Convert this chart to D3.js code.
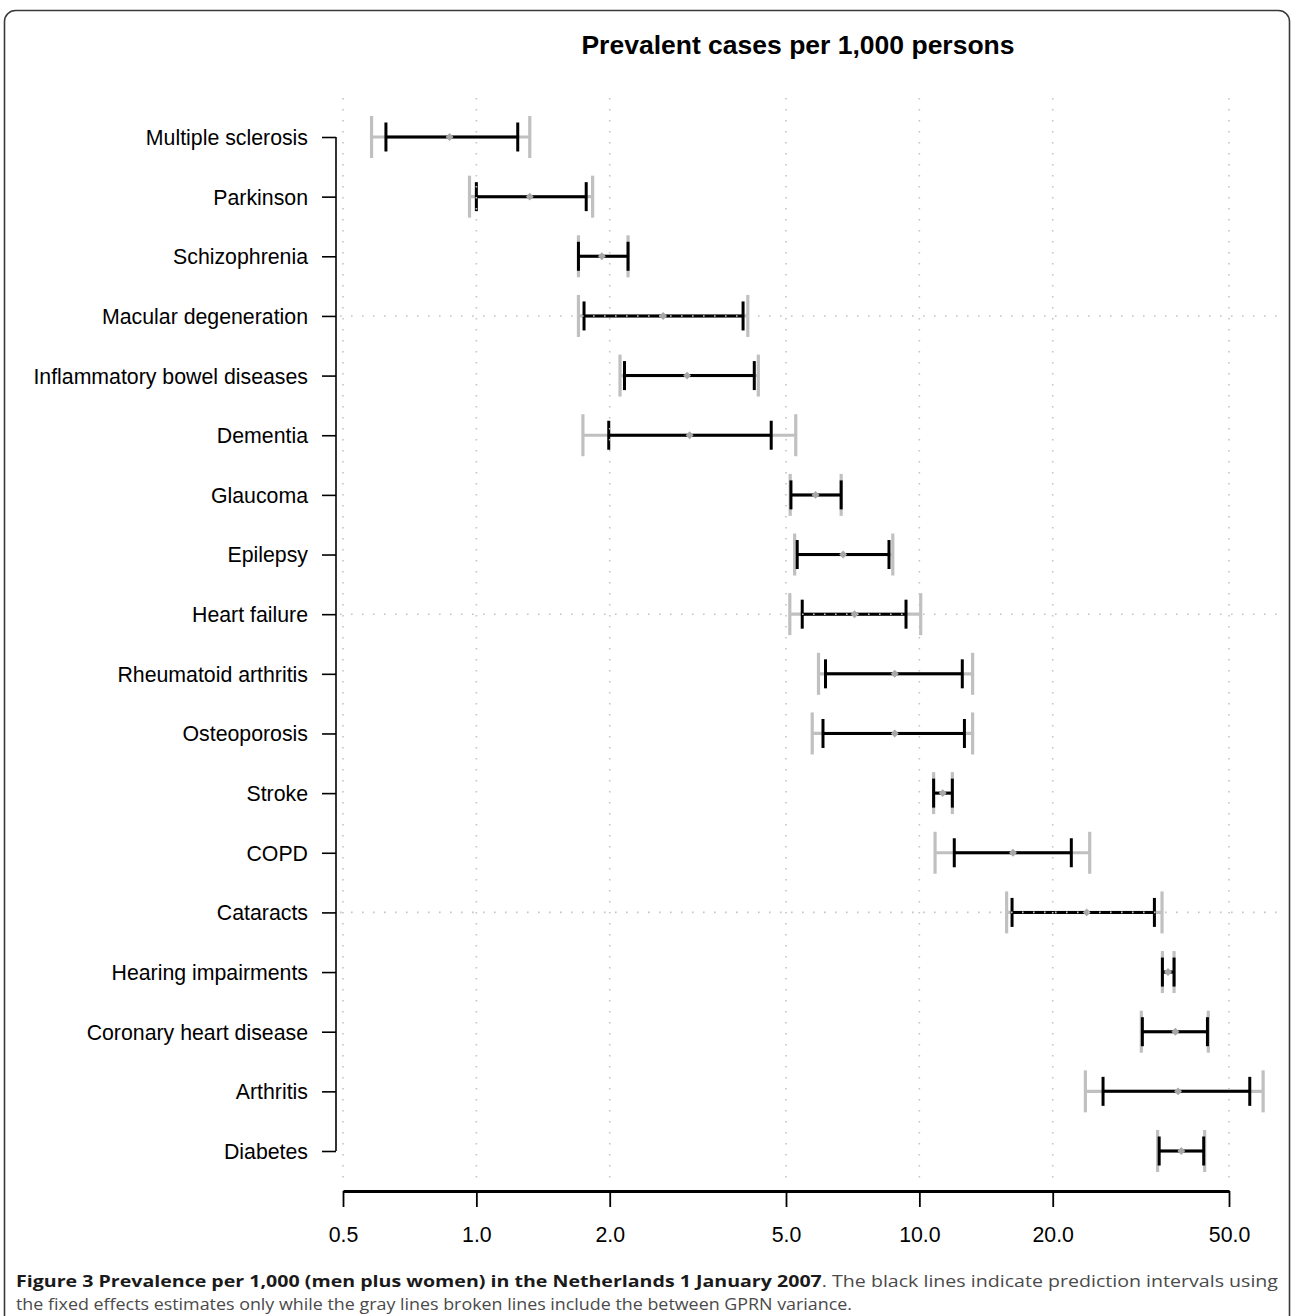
<!DOCTYPE html>
<html>
<head>
<meta charset="utf-8">
<script src="https://cdn.jsdelivr.net/npm/d3@7"></script>
<style>
  html, body { margin: 0; padding: 0; background: #fff; }
  svg { display: block; }
</style>
</head>
<body>
<svg id="chart" width="1293" height="1316"></svg>
<script>
// ---- data ----
const categories = [
  "Multiple sclerosis", "Parkinson", "Schizophrenia", "Macular degeneration",
  "Inflammatory bowel diseases", "Dementia", "Glaucoma", "Epilepsy",
  "Heart failure", "Rheumatoid arthritis", "Osteoporosis", "Stroke", "COPD",
  "Cataracts", "Hearing impairments", "Coronary heart disease", "Arthritis", "Diabetes"
];
const estimate   = [0.87, 1.32, 1.92, 2.64, 2.99, 3.03, 5.83, 6.73, 7.14, 8.80, 8.80, 11.29, 16.27, 23.86, 36.42, 37.84, 38.37, 39.03];
const fixedLow   = [0.625, 1.00, 1.70, 1.75, 2.16, 1.99, 5.13, 5.30, 5.44, 6.14, 6.06, 10.77, 11.99, 16.19, 35.37, 31.87, 25.98, 34.78];
const fixedHigh  = [1.24, 1.77, 2.20, 4.00, 4.24, 4.63, 6.66, 8.54, 9.33, 12.50, 12.64, 11.87, 22.03, 33.93, 37.58, 44.70, 55.70, 43.84];
const totalLow   = [0.58, 0.965, 1.70, 1.70, 2.11, 1.74, 5.11, 5.23, 5.10, 5.92, 5.73, 10.77, 10.85, 15.74, 35.37, 31.70, 23.70, 34.50];
const totalHigh  = [1.32, 1.83, 2.20, 4.10, 4.33, 5.26, 6.66, 8.71, 10.07, 13.19, 13.19, 11.87, 24.24, 35.30, 37.58, 44.90, 59.70, 44.06];
const tickValues = [0.5, 1, 2, 5, 10, 20, 50];
const tickLabels = ["0.5", "1.0", "2.0", "5.0", "10.0", "20.0", "50.0"];
const gridRows   = ["Macular degeneration", "Heart failure", "Cataracts"];
const title = "Prevalent cases per 1,000 persons";
const captionBold = "Figure 3 Prevalence per 1,000 (men plus women) in the Netherlands 1 January 2007";
const captionRest1 = ". The black lines indicate prediction intervals using";
const captionRest2 = "the fixed effects estimates only while the gray lines broken lines include the between GPRN variance.";

const rows = categories.map((c, i) => ({
  name: c, est: estimate[i], fl: fixedLow[i], fh: fixedHigh[i], tl: totalLow[i], th: totalHigh[i]
}));

// ---- layout ----
const svg = d3.select("#chart");
const font = "'Liberation Sans', Arial, Helvetica, sans-serif";

const x = d3.scaleLog().domain([0.5, 50]).range([343, 1229]);
const y = d3.scalePoint().domain(categories).range([137, 1151]);
const axisX = 336, plotRight = 1280, gridTop = 98, gridBottom = 1180, axisY = 1191;

// frame
svg.append("rect")
  .attr("x", 4.5).attr("y", 10.5).attr("width", 1285).attr("height", 1340)
  .attr("rx", 11).attr("ry", 11)
  .attr("fill", "none").attr("stroke", "#3a3a3a").attr("stroke-width", 1.6);

// title
svg.append("text")
  .attr("x", 798).attr("y", 54)
  .attr("text-anchor", "middle")
  .attr("font-family", font).attr("font-weight", "bold").attr("font-size", 26.5)
  .attr("fill", "#000")
  .text(title);

// error bars
const bars = svg.append("g");
const grayC = "#c0c0c0";
rows.forEach(d => {
  const yy = y(d.name);
  bars.append("line").attr("x1", x(d.tl)).attr("x2", x(d.th)).attr("y1", yy).attr("y2", yy)
    .attr("stroke", grayC).attr("stroke-width", 3.2);
  [d.tl, d.th].forEach(v => bars.append("line")
    .attr("x1", x(v)).attr("x2", x(v)).attr("y1", yy - 21).attr("y2", yy + 21)
    .attr("stroke", grayC).attr("stroke-width", 3.2));
  bars.append("line").attr("x1", x(d.fl)).attr("x2", x(d.fh)).attr("y1", yy).attr("y2", yy)
    .attr("stroke", "#000").attr("stroke-width", 3);
  [d.fl, d.fh].forEach(v => bars.append("line")
    .attr("x1", x(v)).attr("x2", x(v)).attr("y1", yy - 14.5).attr("y2", yy + 14.5)
    .attr("stroke", "#000").attr("stroke-width", 3));
  bars.append("path")
    .attr("d", d3.symbol().type(d3.symbolDiamond2).size(40)())
    .attr("transform", `translate(${x(d.est)},${yy})`)
    .attr("fill", "#a8a8a8");
});

// grid (drawn on top, as in the reference)
const grid = svg.append("g").attr("stroke", "#c4c4c4").attr("stroke-width", 1.6)
  .attr("stroke-dasharray", "1.6,9.4").attr("fill", "none");
tickValues.forEach(v => grid.append("line")
  .attr("x1", x(v)).attr("x2", x(v)).attr("y1", gridTop).attr("y2", gridBottom));
gridRows.forEach(r => grid.append("line")
  .attr("x1", axisX + 4).attr("x2", plotRight).attr("y1", y(r)).attr("y2", y(r)));

// y axis
const gy = svg.append("g").attr("transform", `translate(${axisX},0)`)
  .call(d3.axisLeft(y).tickSize(14).tickPadding(14));
gy.select(".domain").attr("d", `M0,${y(categories[0])}V${y(categories[categories.length - 1])}`)
  .attr("stroke-width", 1.6);
gy.selectAll(".tick line").attr("stroke-width", 1.6);
gy.selectAll(".tick text").attr("font-family", font).attr("font-size", 21.3).attr("fill", "#000")
  .attr("dy", "0.35em");

// x axis
const gx = svg.append("g").attr("transform", `translate(0,${axisY})`)
  .call(d3.axisBottom(x).tickValues(tickValues).tickFormat((d, i) => tickLabels[i])
    .tickSize(16).tickSizeOuter(0).tickPadding(20));
gx.select(".domain").attr("stroke-width", 3);
gx.selectAll(".tick line").attr("stroke-width", 1.8);
gx.selectAll(".tick text").attr("font-family", font).attr("font-size", 21.3).attr("fill", "#000");

// caption
const cfont = "'Open Sans', 'Noto Sans', sans-serif";
const c1 = svg.append("text").attr("x", 16).attr("y", 1287)
  .attr("font-family", cfont).attr("font-size", 16.5)
  .attr("textLength", 1262).attr("lengthAdjust", "spacingAndGlyphs");
c1.append("tspan").attr("font-weight", "bold").attr("fill", "#1a1a1a").text(captionBold);
c1.append("tspan").attr("fill", "#4a4a4a").text(captionRest1);
svg.append("text").attr("x", 16).attr("y", 1310)
  .attr("font-family", cfont).attr("font-size", 16.5).attr("fill", "#4a4a4a")
  .attr("textLength", 836).attr("lengthAdjust", "spacingAndGlyphs")
  .text(captionRest2);
</script>
</body>
</html>
